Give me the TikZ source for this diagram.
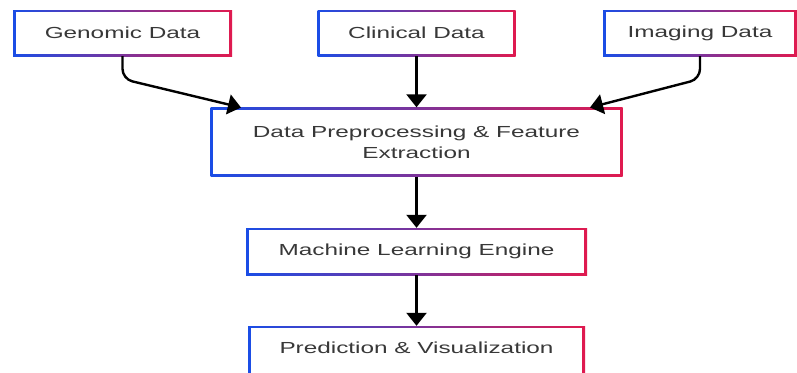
\documentclass[tikz,border=0pt]{standalone}
\usepackage{fontspec}
\setmainfont[FakeStretch=1.52]{Liberation Sans}
\usetikzlibrary{arrows.meta}
\definecolor{bblue}{HTML}{1A4DE6}
\definecolor{bred}{HTML}{E01A4F}
\definecolor{txt}{HTML}{383838}
\tikzset{
  box/.style={rectangle, inner sep=0pt, left color=bblue, right color=bred,
    path picture={\fill[white]
      ([shift={(2.8pt,-2.4pt)}]path picture bounding box.north west) rectangle
      ([shift={(-2.8pt,2.4pt)}]path picture bounding box.south east);},
    text=txt, font=\fontsize{16}{21}\selectfont, align=center},
  arr/.style={draw=black, line width=2.4pt,
    -{Triangle[width=20pt,length=13pt]}},
}
\begin{document}
\begin{tikzpicture}[x=1pt,y=-1pt]
  \useasboundingbox (0,0) rectangle (797,372);
  % source boxes
  \node[box, minimum width=219pt, minimum height=46pt] (gen) at (122.5,33) {Genomic Data};
  \node[box, minimum width=198pt, minimum height=46pt] (clin) at (416.5,33) {Clinical Data};
  \node[box, minimum width=194pt, minimum height=46pt] (img) at (700,33) {Imaging Data};
  % processing chain
  \node[box, minimum width=412pt, minimum height=69pt] (prep) at (416.5,142) {Data Preprocessing \& Feature\\Extraction};
  \node[box, minimum width=341pt, minimum height=47pt] (ml) at (416.5,251.5) {Machine Learning Engine};
  % last box runs past the lower edge of the page
  \node[box, minimum width=337pt, minimum height=52pt, text height=11.5pt, text depth=9pt] (pred) at (416.5,352) {Prediction \& Visualization};
  % arrow targets on the top edge of the preprocessing box
  \coordinate (gtip) at (241,107.5);
  \coordinate (itip) at (590,107.5);
  % connectors
  \draw[arr, rounded corners=10pt] (gen.south) -- (gen.south |- 0,79) -- (gtip);
  \draw[arr] (clin.south) -- (clin.south |- prep.north);
  \draw[arr, rounded corners=10pt] (img.south) -- (img.south |- 0,79) -- (itip);
  \draw[arr] (prep.south) -- (ml.north);
  \draw[arr] (ml.south) -- (pred.north);
\end{tikzpicture}
\end{document}
